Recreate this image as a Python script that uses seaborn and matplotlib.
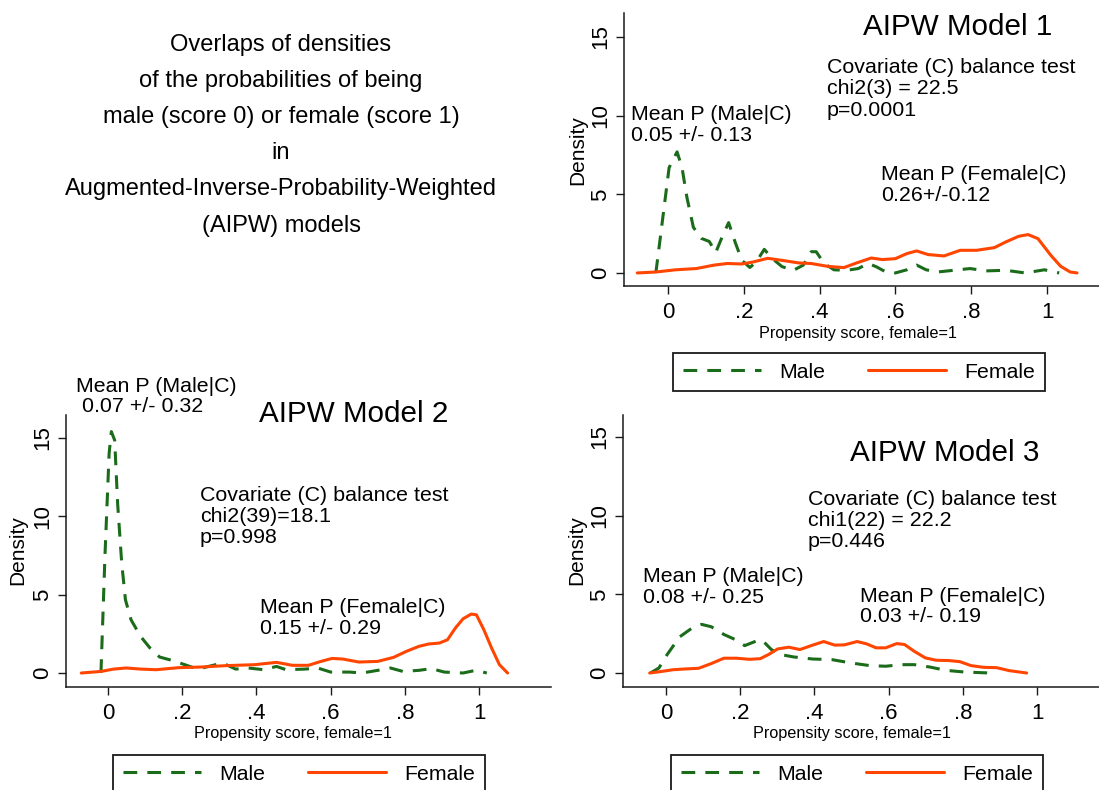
import numpy as np
import pandas as pd
import matplotlib
matplotlib.use("Agg")
import matplotlib.pyplot as plt
from matplotlib.lines import Line2D
import seaborn as sns

# ---------------- data ----------------
# Model 1
m1_male_x = [-0.032, 0.003, 0.024, 0.037, 0.05, 0.067, 0.088, 0.109, 0.126, 0.143, 0.16, 0.178,
             0.195, 0.216, 0.233, 0.254, 0.276, 0.301, 0.331, 0.357, 0.378, 0.391, 0.412, 0.438,
             0.472, 0.502, 0.528, 0.549, 0.575, 0.6, 0.63, 0.656, 0.681, 0.711, 0.754, 0.797,
             0.839, 0.891, 0.942, 0.993, 1.032]
m1_male_y = [0.0, 6.7, 7.7, 6.7, 4.8, 2.9, 2.2, 2.0, 1.3, 2.3, 3.2, 1.9,
             0.8, 0.35, 0.7, 1.5, 0.9, 0.4, 0.17, 0.5, 1.35, 1.35, 0.6, 0.2,
             0.17, 0.28, 0.6, 0.4, 0.06, 0.0, 0.2, 0.5, 0.2, 0.06, 0.17, 0.28,
             0.13, 0.17, 0.0, 0.2, 0.0]
m1_female_x = [-0.081, -0.032, 0.02, 0.075, 0.122, 0.156, 0.195, 0.225, 0.263, 0.301, 0.344,
               0.378, 0.421, 0.464, 0.498, 0.536, 0.566, 0.6, 0.63, 0.656, 0.686, 0.728, 0.771,
               0.814, 0.861, 0.891, 0.925, 0.95, 0.976, 1.01, 1.036, 1.061, 1.079]
m1_female_y = [0.0, 0.06, 0.2, 0.28, 0.5, 0.6, 0.57, 0.7, 0.93, 0.8, 0.64,
               0.6, 0.42, 0.34, 0.64, 0.95, 0.85, 0.91, 1.23, 1.4, 1.17, 1.08, 1.44,
               1.44, 1.61, 1.97, 2.33, 2.44, 2.18, 1.12, 0.42, 0.06, 0.0]

# Model 2
m2_male_x = [-0.019, -0.008, 0.003, 0.009, 0.018, 0.026, 0.037, 0.047, 0.062, 0.088, 0.113,
             0.139, 0.173, 0.207, 0.241, 0.271, 0.309, 0.344, 0.378, 0.42, 0.454, 0.48, 0.531,
             0.565, 0.6, 0.65, 0.685, 0.727, 0.761, 0.795, 0.838, 0.872, 0.906, 0.957, 0.991,
             1.021]
m2_male_y = [0.0, 7.6, 14.0, 15.4, 14.85, 10.8, 7.0, 4.67, 3.4, 2.33, 1.6,
             1.02, 0.8, 0.53, 0.25, 0.42, 0.64, 0.25, 0.32, 0.21, 0.42, 0.21, 0.25,
             0.32, 0.06, 0.06, 0.0, 0.17, 0.32, 0.1, 0.17, 0.28, 0.06, 0.0, 0.17, 0.0]
m2_female_x = [-0.072, -0.019, 0.015, 0.049, 0.088, 0.13, 0.19, 0.25, 0.318, 0.395, 0.454,
               0.497, 0.54, 0.574, 0.604, 0.633, 0.676, 0.727, 0.77, 0.804, 0.838, 0.864,
               0.893, 0.915, 0.936, 0.957, 0.979, 0.993, 1.013, 1.034, 1.055, 1.077]
m2_female_y = [0.0, 0.1, 0.25, 0.32, 0.25, 0.21, 0.34, 0.38, 0.47, 0.53, 0.68,
               0.49, 0.49, 0.74, 0.93, 0.89, 0.7, 0.74, 1.0, 1.38, 1.7, 1.85,
               1.91, 2.12, 2.86, 3.46, 3.76, 3.71, 2.76, 1.59, 0.53, 0.0]

# Model 3
m3_male_x = [-0.042, -0.019, 0.003, 0.037, 0.071, 0.096, 0.122, 0.156, 0.19, 0.212, 0.242,
             0.259, 0.284, 0.31, 0.344, 0.395, 0.447, 0.498, 0.549, 0.592, 0.634, 0.669,
             0.711, 0.754, 0.805, 0.874]
m3_male_y = [0.0, 0.32, 1.17, 2.3, 2.87, 3.09, 2.94, 2.45, 2.09, 1.74, 2.02,
             2.09, 1.49, 1.17, 1.02, 0.89, 0.85, 0.64, 0.47, 0.43, 0.53, 0.53,
             0.38, 0.17, 0.06, 0.0]
m3_female_x = [-0.044, -0.015, 0.02, 0.054, 0.088, 0.122, 0.156, 0.19, 0.225, 0.254, 0.276,
               0.301, 0.331, 0.361, 0.395, 0.425, 0.455, 0.481, 0.515, 0.541, 0.566, 0.592,
               0.622, 0.643, 0.669, 0.699, 0.728, 0.763, 0.792, 0.822, 0.856, 0.891, 0.925,
               0.972]
m3_female_y = [0.0, 0.09, 0.21, 0.26, 0.3, 0.6, 0.94, 0.94, 0.87, 0.91, 1.17,
               1.53, 1.64, 1.49, 1.77, 2.0, 1.77, 1.79, 2.0, 1.85, 1.6, 1.6,
               1.87, 1.81, 1.38, 0.96, 0.81, 0.79, 0.72, 0.47, 0.36, 0.34, 0.15,
               0.0]

groups = ["Male", "Female"]
x_ticks = [0, 0.2, 0.4, 0.6, 0.8, 1]
x_tick_labels = ["0", ".2", ".4", ".6", ".8", "1"]
y_ticks = [0, 5, 10, 15]
y_tick_labels = ["0", "5", "10", "15"]
x_label = "Propensity score, female=1"
y_label = "Density"

intro_lines = ["Overlaps of densities",
               "of the probabilities of being",
               "male (score 0) or female (score 1)",
               "in",
               "Augmented-Inverse-Probability-Weighted",
               "(AIPW) models"]

titles = ["AIPW Model 1", "AIPW Model 2", "AIPW Model 3"]
balance_texts = [["Covariate (C) balance test", "chi2(3) = 22.5", "p=0.0001"],
                 ["Covariate (C) balance test", "chi2(39)=18.1", "p=0.998"],
                 ["Covariate (C) balance test", "chi1(22) = 22.2", "p=0.446"]]
male_texts = [["Mean P (Male|C)", "0.05 +/- 0.13"],
              ["Mean P (Male|C)", " 0.07 +/- 0.32"],
              ["Mean P (Male|C)", "0.08 +/- 0.25"]]
female_texts = [["Mean P (Female|C)", "0.26+/-0.12"],
                ["Mean P (Female|C)", "0.15 +/- 0.29"],
                ["Mean P (Female|C)", "0.03 +/- 0.19"]]

# ---------------- style ----------------
sns.set_style("white")
plt.rcParams["font.family"] = ["Liberation Sans", "DejaVu Sans"]
plt.rcParams["text.color"] = "black"

GREEN = "#1a6b1a"
ORANGE = "#ff4500"
AX_COL = "#1a1a1a"
palette = {"Male": GREEN, "Female": ORANGE}
dash_map = {"Male": (4.5, 3.3), "Female": ""}

W, H = 1099, 790
fig = plt.figure(figsize=(W / 100, H / 100), dpi=100)
fig.patch.set_facecolor("white")


def fx(px):
    return px / W


def fy(py):
    return 1 - py / H


# panel geometry in pixels
panels = [
    dict(l=624, r=1099, t=13, b=286, xlim=(-0.116, 1.137), ylim=(-0.83, 16.53),
         title=(863, 35), bal=(827, [73, 94.5, 116]), male=(631, [120, 141]),
         female=(881, [180, 201]), ylab=(578, 150), xlab=(858, 338), leg=(673, 353)),
    dict(l=66, r=551, t=415, b=687, xlim=(-0.1132, 1.194), ylim=(-0.893, 16.46),
         title=(259, 422), bal=(200, [501, 522, 543]), male=(76, [392, 412]),
         female=(260, [613, 634]), ylab=(18, 550), xlab=(293, 738), leg=(113, 755)),
    dict(l=623, r=1099, t=415, b=687, xlim=(-0.1159, 1.167), ylim=(-0.89, 16.40),
         title=(850, 461), bal=(808, [505, 526, 547]), male=(643, [582, 603]),
         female=(860, [602, 622]), ylab=(577, 550), xlab=(852, 738), leg=(671, 755)),
]

series = [
    (m1_male_x, m1_male_y, m1_female_x, m1_female_y),
    (m2_male_x, m2_male_y, m2_female_x, m2_female_y),
    (m3_male_x, m3_male_y, m3_female_x, m3_female_y),
]

TEXT_PT = 15.4
for i, (p, (mx, my, fxs, fys)) in enumerate(zip(panels, series)):
    ax = fig.add_axes([fx(p["l"]), fy(p["b"]), (p["r"] - p["l"]) / W, (p["b"] - p["t"]) / H])
    df = pd.concat([
        pd.DataFrame({"score": mx, "density": my, "group": "Male"}),
        pd.DataFrame({"score": fxs, "density": fys, "group": "Female"}),
    ], ignore_index=True)
    sns.lineplot(data=df, x="score", y="density", hue="group", style="group",
                 hue_order=groups, style_order=groups, palette=palette, dashes=dash_map,
                 linewidth=2.2, legend=False, ax=ax, clip_on=False)
    for ln in ax.get_lines():
        ln.set_solid_joinstyle("round")
        ln.set_dash_joinstyle("round")
    ax.set_xlim(*p["xlim"])
    ax.set_ylim(*p["ylim"])
    ax.set_xticks(x_ticks)
    ax.set_xticklabels(x_tick_labels)
    ax.set_yticks(y_ticks)
    ax.set_yticklabels(y_tick_labels, rotation=90, va="center")
    ax.set_xlabel("")
    ax.set_ylabel("")
    for s in ["top", "right"]:
        ax.spines[s].set_visible(False)
    for s in ["left", "bottom"]:
        ax.spines[s].set_color(AX_COL)
        ax.spines[s].set_linewidth(1.1)
    ax.tick_params(axis="both", direction="out", length=5.5, width=1.0, color=AX_COL,
                   labelsize=16, labelcolor="black", left=True, bottom=True)
    ax.tick_params(axis="x", pad=6)
    ax.tick_params(axis="y", pad=4)
    ax.patch.set_alpha(0)

    # axis labels
    fig.text(fx(p["ylab"][0]), fy(p["ylab"][1]), y_label, rotation=90, ha="center",
             va="center", fontsize=15)
    fig.text(fx(p["xlab"][0]), fy(p["xlab"][1]), x_label, ha="center", va="baseline",
             fontsize=11.7)

    # title and annotations
    fig.text(fx(p["title"][0]), fy(p["title"][1]), titles[i], ha="left", va="baseline",
             fontsize=21.3)
    for line, yb in zip(balance_texts[i], p["bal"][1]):
        fig.text(fx(p["bal"][0]), fy(yb), line, ha="left", va="baseline", fontsize=TEXT_PT)
    for line, yb in zip(male_texts[i], p["male"][1]):
        fig.text(fx(p["male"][0]), fy(yb), line, ha="left", va="baseline", fontsize=TEXT_PT)
    for line, yb in zip(female_texts[i], p["female"][1]):
        fig.text(fx(p["female"][0]), fy(yb), line, ha="left", va="baseline", fontsize=TEXT_PT)

    # legend
    handles = [Line2D([], [], color=GREEN, lw=2.2, linestyle=(0, dash_map["Male"])),
               Line2D([], [], color=ORANGE, lw=2.2, linestyle="-")]
    leg = ax.legend(handles, groups, ncol=2, loc="upper left",
                    bbox_to_anchor=(fx(p["leg"][0]), fy(p["leg"][1])),
                    bbox_transform=fig.transFigure, frameon=True, fancybox=False,
                    edgecolor=AX_COL, facecolor="white", framealpha=1, fontsize=15.3,
                    handlelength=3.7, handletextpad=0.85, columnspacing=2.0,
                    borderpad=0.45, borderaxespad=0)
    leg.get_frame().set_linewidth(1.3)
    for t in leg.get_texts():
        t.set_color("black")

# intro text block
for k, line in enumerate(intro_lines):
    fig.text(fx(281), fy(50.5 + 36.25 * k), line, ha="center", va="baseline", fontsize=17)

fig.savefig("out.png", dpi=100, facecolor="white")
